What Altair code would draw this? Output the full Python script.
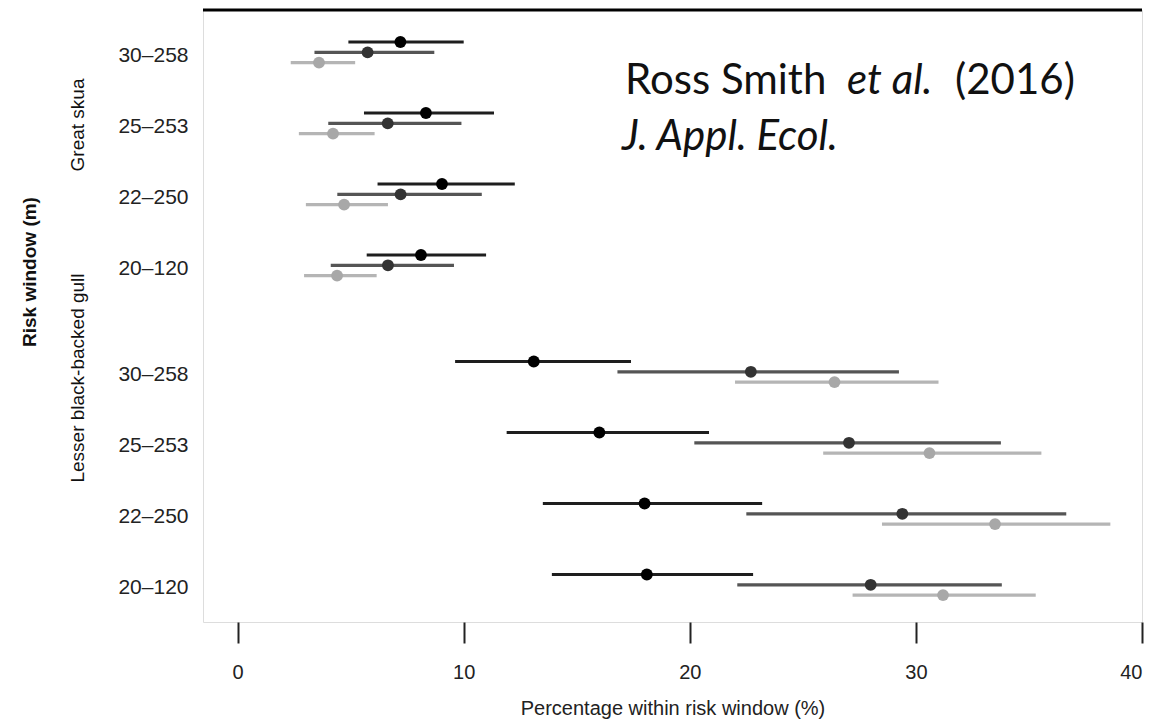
import json
import altair as alt
import pandas as pd

# ---- data ----
species = ["Great skua"] * 4 + ["Lesser black-backed gull"] * 4
windows = ["30\u2013258", "25\u2013253", "22\u2013250", "20\u2013120"]
row_windows = windows * 2
series_names = ["Series 1", "Series 2", "Series 3"]

est_s1 = [7.2, 8.33, 9.04, 8.11, 13.1, 16.0, 18.0, 18.1]
lo_s1 = [4.9, 5.59, 6.19, 5.71, 9.62, 11.9, 13.5, 13.9]
hi_s1 = [10.0, 11.34, 12.26, 10.99, 17.4, 20.85, 23.2, 22.8]

est_s2 = [5.75, 6.64, 7.21, 6.65, 22.7, 27.04, 29.4, 28.0]
lo_s2 = [3.4, 4.01, 4.41, 4.12, 16.8, 20.2, 22.5, 22.1]
hi_s2 = [8.7, 9.9, 10.8, 9.57, 29.25, 33.76, 36.65, 33.8]

est_s3 = [3.6, 4.22, 4.71, 4.40, 26.4, 30.6, 33.5, 31.2]
lo_s3 = [2.35, 2.71, 3.02, 2.94, 22.0, 25.9, 28.5, 27.2]
hi_s3 = [5.2, 6.06, 6.65, 6.15, 31.0, 35.55, 38.6, 35.3]

x_ticks = [0, 10, 20, 30, 40]

# ---- build table ----
group_gap = 0.5
offsets = [-0.145, 0.0, 0.145]
row_pos = [i + (group_gap if species[i] != species[0] else 0) for i in range(len(species))]

rows = []
for s, (name, est, lo, hi) in enumerate(zip(series_names,
                                            [est_s1, est_s2, est_s3],
                                            [lo_s1, lo_s2, lo_s3],
                                            [hi_s1, hi_s2, hi_s3])):
    for i in range(len(species)):
        rows.append(dict(species=species[i], window=row_windows[i], series=name,
                         est=est[i], lo=lo[i], hi=hi[i], ypos=row_pos[i] + offsets[s]))
df = pd.DataFrame(rows)

W, H = 939, 612
FONT = "Liberation Sans"

label_expr = ("%s[datum.value < 4 ? datum.value : datum.value - 4.5]"
              % json.dumps(windows))

xscale = alt.Scale(domain=[-1.53, 40], nice=False, zero=False)
yscale = alt.Scale(domain=[-0.596, 8.024], reverse=True, nice=False, zero=False)

line_colors = ["#1e1e1e", "#555555", "#b5b5b5"]
point_colors = ["#000000", "#333333", "#a8a8a8"]
line_widths = [3.2, 3.2, 2.6]

base = alt.Chart(df)

rules = base.mark_rule().encode(
    x=alt.X("lo:Q", scale=xscale,
            axis=alt.Axis(values=x_ticks, title="Percentage within risk window (%)",
                          tickSize=21, tickWidth=2, tickColor="#222", domain=False,
                          grid=False, labelFontSize=20, labelPadding=19,
                          labelColor="#222", labelFont=FONT, titleFont=FONT,
                          titleFontSize=20, titleFontWeight="normal", titleColor="#222",
                          titlePadding=16)),
    x2="hi:Q",
    y=alt.Y("ypos:Q", scale=yscale,
            axis=alt.Axis(values=row_pos, labelExpr=label_expr, ticks=False,
                          domain=False, grid=False, title=None, labelFontSize=21,
                          labelPadding=15, labelColor="#222", labelFont=FONT,
                          labelBaseline="middle", labelOffset=3)),
    color=alt.Color("series:N", scale=alt.Scale(domain=series_names, range=line_colors),
                    legend=None),
    strokeWidth=alt.StrokeWidth("series:N",
                                scale=alt.Scale(domain=series_names, range=line_widths),
                                legend=None),
)

points = base.mark_circle(size=140, opacity=1).encode(
    x=alt.X("est:Q", scale=xscale),
    y=alt.Y("ypos:Q", scale=yscale),
    color=alt.Color("series:N", scale=alt.Scale(domain=series_names, range=point_colors),
                    legend=None),
)

one = alt.Data(values=[{}])

top_line = alt.Chart(one).mark_rule(color="#000", strokeWidth=3).encode(
    x=alt.value(0), x2=alt.value(W), y=alt.value(0))


def label(text, x, y, size, angle=0, weight="normal", style="normal",
          font=FONT, align="center", baseline="middle"):
    return alt.Chart(one).mark_text(
        text=text, fontSize=size, angle=angle, fontWeight=weight, fontStyle=style,
        font=font, align=align, baseline=baseline, color="#111").encode(
        x=alt.value(x), y=alt.value(y))


annots = [
    label("Great skua", -125, 115, 19, angle=270),
    label("Lesser black-backed gull", -125, 368, 19, angle=270),
    label("Risk window (m)", -173, 262, 19, angle=270, weight="bold"),
    label("Ross Smith", 422, 84, 42, font="Lato", align="left", baseline="alphabetic"),
    label("et al.", 644, 84, 42, font="Lato", style="italic", align="left",
          baseline="alphabetic"),
    label("(2016)", 752, 84, 42, font="Lato", align="left", baseline="alphabetic"),
    label("J. Appl. Ecol.", 419, 140, 42, font="Lato", style="italic", align="left",
          baseline="alphabetic"),
]

chart = alt.layer(rules, points, top_line, *annots).resolve_scale(
    color="independent"
).properties(
    width=W, height=H,
    autosize=alt.AutoSizeParams(type="none"),
    padding={"left": 203, "top": 10, "right": 20, "bottom": 103},
).configure_view(stroke="#333", strokeWidth=2).configure(background="white")

chart.save("out.html", embed_options={"renderer": "svg", "actions": False})
